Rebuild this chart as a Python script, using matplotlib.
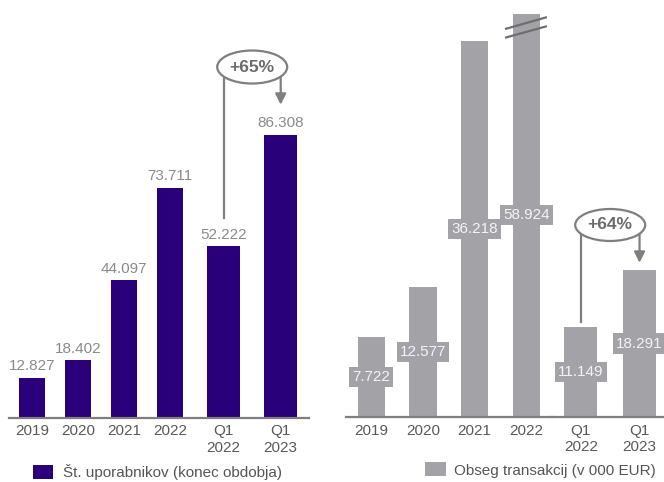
import matplotlib
matplotlib.use('Agg')
import matplotlib.pyplot as plt
from matplotlib.patches import Ellipse, Patch

plt.rcParams['font.family'] = ['Liberation Sans', 'DejaVu Sans']

# Data
years = ['2019', '2020', '2021', '2022']
quarters = ['Q1\n2022', 'Q1\n2023']
users_years = [12827, 18402, 44097, 73711]
users_q = [52222, 86308]
volume_years = [7722, 12577, 36218, 58924]
volume_q = [11149, 18291]
users_growth = '+65%'
volume_growth = '+64%'
users_label = 'Št. uporabnikov (konec obdobja)'
volume_label = 'Obseg transakcij (v 000 EUR)'

PURPLE = '#29007a'
GRAY = '#a3a3a7'
LINE = '#7f7f7f'
TICK = '#595959'
FS = 11

W, H = 664, 482
fig = plt.figure(figsize=(6.64, 4.82), dpi=100)


def add_ax(x0, x1, ytop, ybase):
    # axes placed by pixel edges
    return fig.add_axes([x0 / W, (H - ybase) / H, (x1 - x0) / W, (ybase - ytop) / H])


def fmt(v):
    return f'{v:,}'.replace(',', '.')


def style(ax, labels):
    for s in ['top', 'left', 'right']:
        ax.spines[s].set_visible(False)
    ax.spines['bottom'].set_color(LINE)
    ax.spines['bottom'].set_linewidth(1.6)
    ax.set_yticks([])
    ax.set_xticks(range(len(labels)), labels)
    ax.tick_params(axis='x', length=0, pad=4.5, labelsize=FS, labelcolor=TICK)
    for t in ax.get_xticklabels():
        t.set_linespacing(1.25)
    ax.set_xlim(-0.5, len(labels) - 0.5)
    ax.patch.set_alpha(0)


def growth_badge(ax, cx, cy, w, h, text, start, tip):
    ax.add_patch(Ellipse((cx, cy), w, h, facecolor='white', edgecolor=LINE,
                         lw=1.6, zorder=5, clip_on=False))
    ax.text(cx, cy, text, ha='center', va='center', fontsize=12.5,
            fontweight='bold', color='#6b6b6b', zorder=6)
    ax.plot([0, 0], [start, cy], color=LINE, lw=1.6, zorder=4, clip_on=False)
    ax.annotate('', xy=(1, tip), xytext=(1, cy), annotation_clip=False,
                arrowprops=dict(arrowstyle='-|>', color=LINE, lw=1.6,
                                mutation_scale=16, shrinkA=0, shrinkB=0),
                zorder=4)


# Left panel: users
ax1 = add_ax(9, 193, 0, 417.7)
ax2 = add_ax(195.2, 309.2, 0, 417.7)
ax1.set_ylim(0, 134100)
ax2.set_ylim(0, 127400)

b1 = ax1.bar(range(len(years)), users_years, width=0.55, color=PURPLE)
ax2.bar(range(len(quarters)), users_q, width=0.57, color=PURPLE)
for ax, vals, labels in [(ax1, users_years, years), (ax2, users_q, quarters)]:
    style(ax, labels)
    for i, v in enumerate(vals):
        ax.annotate(fmt(v), (i, v), xytext=(0, 5.5), textcoords='offset points',
                    ha='center', va='baseline', fontsize=FS, color='#8a8a8a')

growth_badge(ax2, 0.5, 106960, 70 / 57, 33 * 305, users_growth,
             users_q[0] + 8700, users_q[1] + 9150)

# Right panel: transaction volume
ax3 = add_ax(345.5, 552, 13.5, 417.3)
ax4 = add_ax(551.5, 668.9, 13.5, 417.3)
ax3.set_ylim(0, 38900)
ax4.set_ylim(0, 50070)

b3 = ax3.bar(range(len(years)), volume_years, width=0.53, color=GRAY)
ax4.bar(range(len(quarters)), volume_q, width=0.56, color=GRAY)
for ax, vals, labels in [(ax3, volume_years, years), (ax4, volume_q, quarters)]:
    style(ax, labels)
    top = ax.get_ylim()[1]
    for i, v in enumerate(vals):
        ax.text(i, min(v, top) / 2, fmt(v), ha='center', va='center',
                fontsize=FS, color='#f4f4f4', zorder=5,
                bbox=dict(boxstyle='square,pad=0.2', fc=GRAY, ec='none'))

# break marks on the cut-off 2022 bar
ax3.plot([2.61, 3.38], [37430, 38520], color='#6e6e6e', lw=1.6, clip_on=False)
ax3.plot([2.61, 3.38], [36590, 37650], color='#6e6e6e', lw=1.6, clip_on=False)

growth_badge(ax4, 0.5, 23845, 70 / 58.7, 32 * 124, volume_growth,
             volume_q[0] + 700, volume_q[1] + 870)

# Legends
fig.legend([b1], [users_label], loc='center left', bbox_to_anchor=(33 / W, 0.02),
           frameon=False, fontsize=FS, labelcolor='#555555', borderpad=0,
           borderaxespad=0, handlelength=1.3, handleheight=1.1, handletextpad=0.65)
fig.legend([b3], [volume_label], loc='center left', bbox_to_anchor=(425 / W, 0.025),
           frameon=False, fontsize=FS, labelcolor='#555555', borderpad=0,
           borderaxespad=0, handlelength=1.4, handleheight=1.05, handletextpad=0.52)

fig.savefig('out.png', dpi=100)
